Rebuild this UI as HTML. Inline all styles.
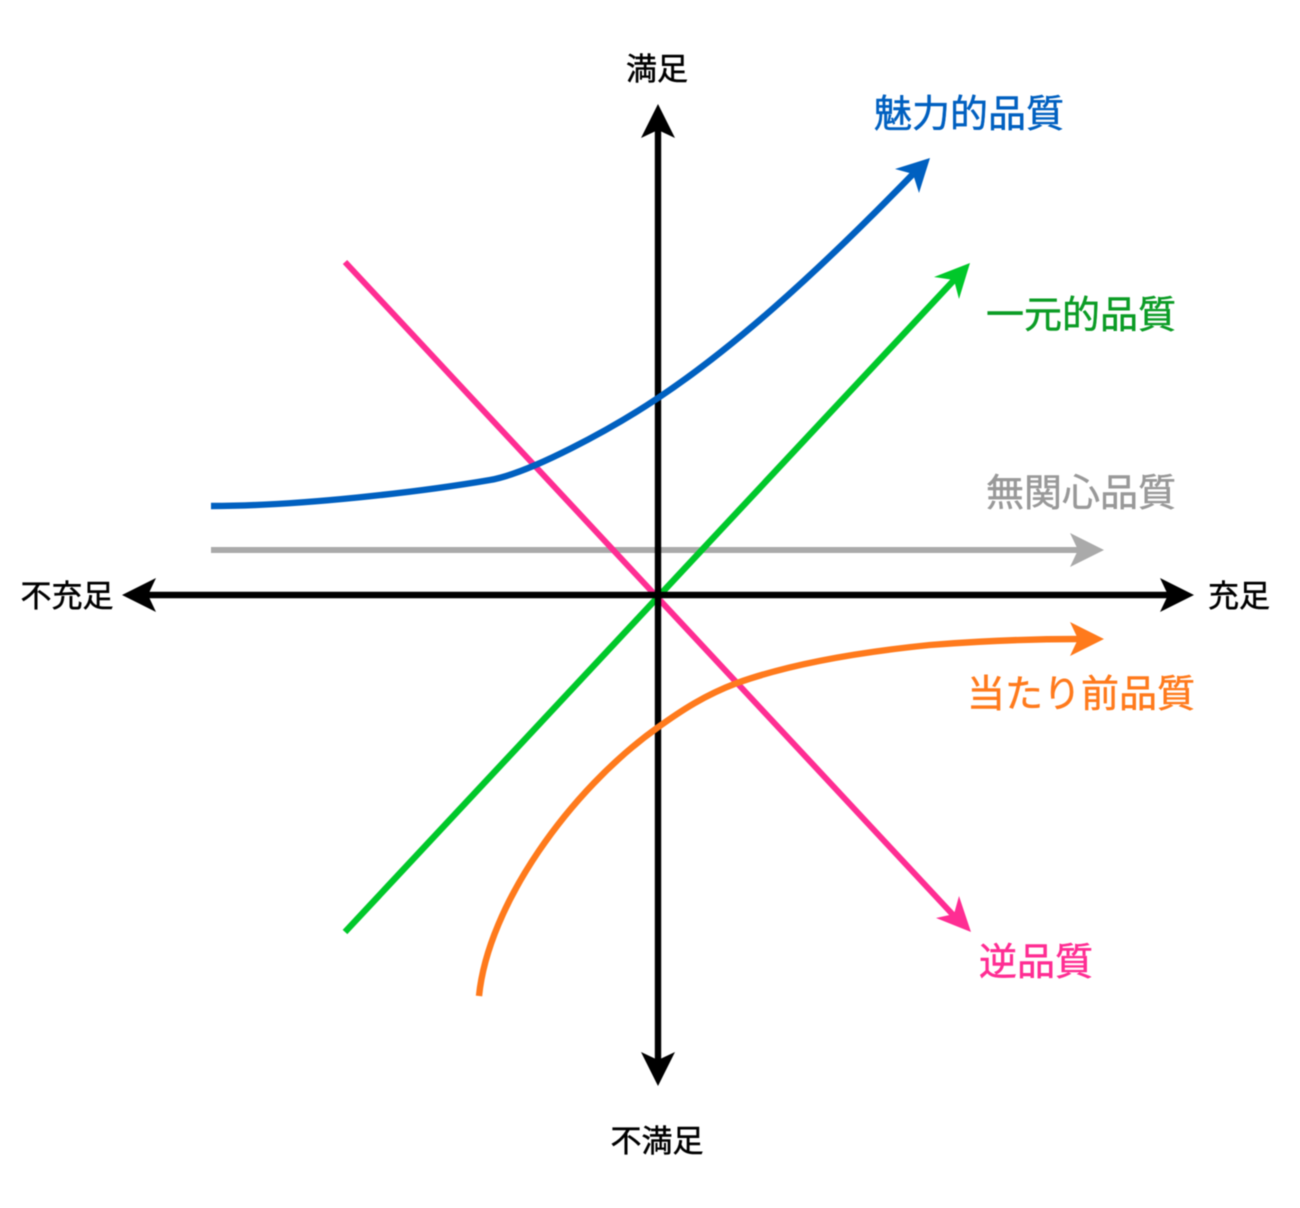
<!DOCTYPE html>
<html>
<head>
<meta charset="utf-8">
<style>
html,body{margin:0;padding:0;background:#fff;}
svg{display:block;filter:blur(0.6px);}
text{font-family:"Liberation Sans","Noto Sans CJK JP",sans-serif;text-anchor:middle;stroke-width:0.5px;}
</style>
</head>
<body>
<svg width="1300" height="1208" viewBox="0 0 1300 1208" xmlns="http://www.w3.org/2000/svg" fill="none">
<rect width="1300" height="1208" fill="#fff"/>
<!-- gray -->
<path d="M211 550H1080" stroke="#aaaaaa" stroke-width="6"/>
<path d="M1104 550L1070 567L1078 550L1070 533Z" fill="#aaaaaa"/>
<!-- pink -->
<path d="M345 262L955 917" stroke="#ff2d93" stroke-width="6"/>
<path d="M971 932L936 918L954 914L959 896Z" fill="#ff2d93"/>
<!-- green -->
<path d="M345 932L955 279" stroke="#00c82a" stroke-width="6.4"/>
<path d="M970 263L959 299L954 280L934 277Z" fill="#00c82a"/>
<!-- black axes -->
<path d="M146 595H1170" stroke="#000" stroke-width="6.4"/>
<path d="M122 595L156 578L148 595L156 612Z" fill="#000"/>
<path d="M1194 595L1160 612L1168 595L1160 578Z" fill="#000"/>
<path d="M658 128V1062" stroke="#000" stroke-width="6.4"/>
<path d="M658 104L675 138L658 130L641 138Z" fill="#000"/>
<path d="M658 1086L641 1052L658 1060L675 1052Z" fill="#000"/>
<!-- blue -->
<path d="M211 506C300 506 420 492 490 480C530 473 610 430 658 398C730 350 810 280 913 174" stroke="#0060c0" stroke-width="6.4"/>
<path d="M930 158L919 193L913 174L895 169Z" fill="#0060c0"/>
<!-- orange -->
<path d="M479 996C488 905 570 790 657 728C682 710 705 695 737 683C790 664 860 652 930 645C980 641 1030 639 1080 639" stroke="#ff7a1c" stroke-width="6.4"/>
<path d="M1104 639L1070 656L1078 639L1070 622Z" fill="#ff7a1c"/>
<!-- labels -->
<text x="657" y="80" font-size="31" fill="#000" stroke="#000">満足</text>
<text x="657" y="1152" font-size="31" fill="#000" stroke="#000">不満足</text>
<text x="67" y="607" font-size="31" fill="#000" stroke="#000">不充足</text>
<text x="1239" y="607" font-size="31" fill="#000" stroke="#000">充足</text>
<text x="969" y="127" font-size="38" fill="#0060c0" stroke="#0060c0">魅力的品質</text>
<text x="1081" y="328" font-size="38" fill="#0b9c25" stroke="#0b9c25">一元的品質</text>
<text x="1081" y="506" font-size="38" fill="#999999" stroke="#999999">無関心品質</text>
<text x="1081" y="707" font-size="38" fill="#ff7a1c" stroke="#ff7a1c">当たり前品質</text>
<text x="1036" y="975" font-size="38" fill="#ff2d93" stroke="#ff2d93">逆品質</text>
</svg>
</body>
</html>
